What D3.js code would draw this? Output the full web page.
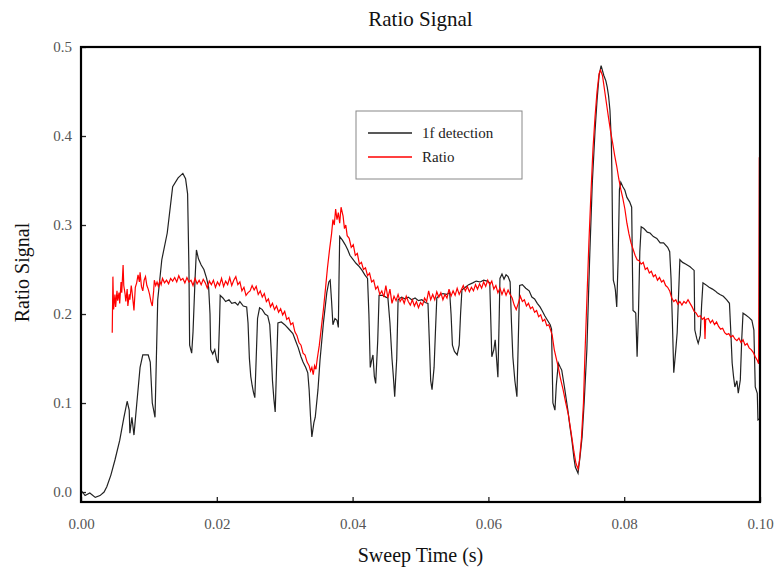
<!DOCTYPE html>
<html>
<head>
<meta charset="utf-8">
<script src="https://cdn.jsdelivr.net/npm/d3@7"></script>
<style>
    body { margin: 0; background: #fff; }
    svg text { font-family: "Liberation Serif", "DejaVu Serif", serif; }
</style>
</head>
<body>
<div id="chart"></div>
<script>
// sweep time (s), signal
const detectionPoints = [
    [0.0000, 0.002], [0.0006, -0.004], [0.0013, -0.001], [0.0021, -0.006], [0.0028, -0.004],
    [0.0034, 0.000], [0.0038, 0.006], [0.0044, 0.019], [0.0050, 0.036], [0.0057, 0.058],
    [0.0063, 0.083], [0.0068, 0.102], [0.0071, 0.092], [0.0072, 0.066], [0.0075, 0.084],
    [0.0078, 0.064], [0.0082, 0.098], [0.0087, 0.140], [0.0091, 0.154], [0.0099, 0.154],
    [0.0102, 0.146], [0.0105, 0.100], [0.0109, 0.084], [0.0113, 0.216], [0.0119, 0.261],
    [0.0127, 0.291], [0.0135, 0.343], [0.0143, 0.353], [0.0150, 0.358], [0.0154, 0.352],
    [0.0157, 0.335], [0.0159, 0.250], [0.0160, 0.165], [0.0163, 0.156], [0.0165, 0.180],
    [0.0168, 0.240], [0.0170, 0.272], [0.0173, 0.262], [0.0177, 0.255], [0.0181, 0.250],
    [0.0185, 0.240], [0.0188, 0.230], [0.0190, 0.200], [0.0191, 0.160], [0.0194, 0.155],
    [0.0197, 0.160], [0.0200, 0.148], [0.0202, 0.145], [0.0204, 0.190], [0.0205, 0.221],
    [0.0209, 0.218], [0.0213, 0.214], [0.0218, 0.216], [0.0222, 0.212], [0.0227, 0.213],
    [0.0231, 0.210], [0.0234, 0.214], [0.0239, 0.209], [0.0244, 0.208], [0.0246, 0.190],
    [0.0248, 0.150], [0.0250, 0.130], [0.0252, 0.120], [0.0254, 0.112], [0.0256, 0.106],
    [0.0258, 0.150], [0.0260, 0.195], [0.0263, 0.207], [0.0267, 0.205], [0.0271, 0.200],
    [0.0275, 0.198], [0.0278, 0.188], [0.0280, 0.160], [0.0282, 0.125], [0.0284, 0.105],
    [0.0286, 0.090], [0.0288, 0.140], [0.0290, 0.190], [0.0295, 0.191], [0.0300, 0.188],
    [0.0305, 0.184], [0.0312, 0.178], [0.0316, 0.170], [0.0320, 0.162], [0.0324, 0.152],
    [0.0327, 0.146], [0.0331, 0.140], [0.0334, 0.134], [0.0336, 0.115], [0.0338, 0.085],
    [0.0340, 0.062], [0.0343, 0.078], [0.0345, 0.084], [0.0349, 0.115], [0.0352, 0.148],
    [0.0357, 0.190], [0.0362, 0.224], [0.0365, 0.236], [0.0367, 0.238], [0.0369, 0.215],
    [0.0371, 0.188], [0.0374, 0.195], [0.0377, 0.193], [0.0379, 0.185], [0.0380, 0.240],
    [0.0381, 0.287], [0.0385, 0.283], [0.0389, 0.278], [0.0393, 0.272], [0.0396, 0.266],
    [0.0400, 0.262], [0.0405, 0.257], [0.0409, 0.254], [0.0414, 0.249], [0.0418, 0.244],
    [0.0422, 0.240], [0.0424, 0.200], [0.0426, 0.140], [0.0428, 0.148], [0.0430, 0.154],
    [0.0432, 0.130], [0.0434, 0.122], [0.0437, 0.170], [0.0439, 0.221], [0.0444, 0.221],
    [0.0449, 0.219], [0.0452, 0.218], [0.0455, 0.190], [0.0458, 0.150], [0.0460, 0.130],
    [0.0462, 0.107], [0.0465, 0.150], [0.0467, 0.216], [0.0472, 0.219], [0.0477, 0.217],
    [0.0482, 0.219], [0.0487, 0.216], [0.0492, 0.218], [0.0497, 0.215], [0.0502, 0.216],
    [0.0507, 0.213], [0.0511, 0.212], [0.0513, 0.170], [0.0515, 0.125], [0.0517, 0.115],
    [0.0520, 0.140], [0.0522, 0.180], [0.0524, 0.218], [0.0528, 0.221], [0.0533, 0.223],
    [0.0538, 0.222], [0.0543, 0.224], [0.0545, 0.200], [0.0547, 0.165], [0.0550, 0.158],
    [0.0554, 0.154], [0.0557, 0.165], [0.0559, 0.200], [0.0561, 0.227], [0.0566, 0.230],
    [0.0571, 0.233], [0.0577, 0.235], [0.0582, 0.237], [0.0588, 0.236], [0.0593, 0.238],
    [0.0598, 0.237], [0.0602, 0.235], [0.0604, 0.180], [0.0605, 0.152], [0.0608, 0.160],
    [0.0610, 0.171], [0.0612, 0.150], [0.0614, 0.129], [0.0616, 0.200], [0.0617, 0.240],
    [0.0620, 0.245], [0.0623, 0.239], [0.0626, 0.244], [0.0629, 0.242], [0.0632, 0.236],
    [0.0634, 0.190], [0.0636, 0.152], [0.0639, 0.125], [0.0642, 0.107], [0.0644, 0.170],
    [0.0646, 0.232], [0.0650, 0.233], [0.0655, 0.229], [0.0660, 0.226], [0.0664, 0.219],
    [0.0668, 0.217], [0.0672, 0.212], [0.0676, 0.208], [0.0679, 0.204], [0.0683, 0.198],
    [0.0687, 0.193], [0.0691, 0.188], [0.0693, 0.183], [0.0694, 0.140], [0.0695, 0.100],
    [0.0698, 0.092], [0.0700, 0.120], [0.0703, 0.145], [0.0706, 0.140], [0.0708, 0.137],
    [0.0712, 0.118], [0.0717, 0.092], [0.0720, 0.074], [0.0723, 0.058], [0.0726, 0.038],
    [0.0728, 0.028], [0.0732, 0.021], [0.0735, 0.040], [0.0738, 0.062], [0.0741, 0.100],
    [0.0745, 0.160], [0.0749, 0.260], [0.0753, 0.347], [0.0757, 0.405], [0.0760, 0.440],
    [0.0763, 0.468], [0.0766, 0.479], [0.0770, 0.468], [0.0773, 0.462], [0.0775, 0.455],
    [0.0777, 0.445], [0.0779, 0.429], [0.0781, 0.395], [0.0782, 0.354], [0.0783, 0.280],
    [0.0784, 0.238], [0.0786, 0.232], [0.0787, 0.227], [0.0789, 0.208], [0.0791, 0.260],
    [0.0793, 0.340], [0.0795, 0.348], [0.0798, 0.343], [0.0801, 0.339], [0.0804, 0.331],
    [0.0808, 0.326], [0.0811, 0.320], [0.0812, 0.260], [0.0813, 0.204], [0.0816, 0.202],
    [0.0817, 0.201], [0.0819, 0.152], [0.0821, 0.200], [0.0823, 0.270], [0.0825, 0.298],
    [0.0829, 0.296], [0.0834, 0.292], [0.0838, 0.291], [0.0843, 0.287], [0.0848, 0.285],
    [0.0853, 0.280], [0.0858, 0.280], [0.0864, 0.275], [0.0867, 0.270], [0.0869, 0.240],
    [0.0871, 0.190], [0.0873, 0.134], [0.0876, 0.160], [0.0878, 0.179], [0.0880, 0.220],
    [0.0882, 0.261], [0.0886, 0.258], [0.0891, 0.256], [0.0897, 0.253], [0.0900, 0.251],
    [0.0903, 0.249], [0.0904, 0.182], [0.0907, 0.172], [0.0909, 0.167], [0.0912, 0.176],
    [0.0914, 0.210], [0.0916, 0.235], [0.0920, 0.233], [0.0925, 0.230], [0.0930, 0.228],
    [0.0934, 0.226], [0.0937, 0.224], [0.0941, 0.222], [0.0946, 0.220], [0.0951, 0.216],
    [0.0955, 0.212], [0.0957, 0.180], [0.0959, 0.145], [0.0961, 0.130], [0.0963, 0.118],
    [0.0966, 0.125], [0.0968, 0.111], [0.0971, 0.126], [0.0973, 0.170], [0.0975, 0.201],
    [0.0979, 0.199], [0.0984, 0.196], [0.0988, 0.193], [0.0991, 0.182], [0.0993, 0.118],
    [0.0996, 0.111], [0.0997, 0.081], [0.0999, 0.082]
];

const ratioPoints = [
    [0.0046, 0.179], [0.0047, 0.242], [0.0048, 0.205], [0.0050, 0.222], [0.0051, 0.208],
    [0.0053, 0.226], [0.0054, 0.215], [0.0056, 0.224], [0.0057, 0.212], [0.0059, 0.236],
    [0.0060, 0.224], [0.0062, 0.255], [0.0063, 0.232], [0.0065, 0.222], [0.0066, 0.214],
    [0.0068, 0.228], [0.0069, 0.209], [0.0071, 0.222], [0.0072, 0.216], [0.0074, 0.232],
    [0.0075, 0.226], [0.0077, 0.212], [0.0078, 0.204], [0.0080, 0.230], [0.0082, 0.235],
    [0.0084, 0.244], [0.0086, 0.236], [0.0087, 0.247], [0.0089, 0.231], [0.0091, 0.226],
    [0.0093, 0.238], [0.0095, 0.242], [0.0097, 0.232], [0.0099, 0.228], [0.0101, 0.222],
    [0.0103, 0.214], [0.0105, 0.209], [0.0107, 0.226], [0.0108, 0.238], [0.0110, 0.232],
    [0.0112, 0.236], [0.0114, 0.231], [0.0116, 0.237], [0.0118, 0.233], [0.0120, 0.240],
    [0.0123, 0.235], [0.0126, 0.238], [0.0129, 0.234], [0.0132, 0.240], [0.0135, 0.237],
    [0.0138, 0.241], [0.0141, 0.236], [0.0144, 0.243], [0.0147, 0.238], [0.0150, 0.240],
    [0.0153, 0.235], [0.0156, 0.241], [0.0159, 0.236], [0.0162, 0.238], [0.0165, 0.232],
    [0.0168, 0.240], [0.0171, 0.234], [0.0174, 0.238], [0.0177, 0.233], [0.0180, 0.239],
    [0.0183, 0.235], [0.0186, 0.229], [0.0189, 0.237], [0.0192, 0.233], [0.0195, 0.238],
    [0.0198, 0.230], [0.0201, 0.236], [0.0204, 0.232], [0.0207, 0.240], [0.0210, 0.231],
    [0.0213, 0.237], [0.0216, 0.233], [0.0219, 0.241], [0.0222, 0.232], [0.0225, 0.238],
    [0.0228, 0.242], [0.0231, 0.233], [0.0234, 0.236], [0.0237, 0.226], [0.0240, 0.230],
    [0.0243, 0.221], [0.0246, 0.224], [0.0249, 0.226], [0.0252, 0.232], [0.0255, 0.227],
    [0.0258, 0.231], [0.0261, 0.222], [0.0264, 0.226], [0.0267, 0.219], [0.0270, 0.223],
    [0.0273, 0.214], [0.0276, 0.217], [0.0279, 0.208], [0.0282, 0.212], [0.0285, 0.205],
    [0.0288, 0.209], [0.0291, 0.202], [0.0294, 0.206], [0.0297, 0.199], [0.0300, 0.203],
    [0.0303, 0.194], [0.0306, 0.196], [0.0309, 0.188], [0.0312, 0.190], [0.0315, 0.180],
    [0.0318, 0.176], [0.0321, 0.168], [0.0324, 0.165], [0.0327, 0.156], [0.0330, 0.154],
    [0.0333, 0.146], [0.0336, 0.142], [0.0338, 0.136], [0.0340, 0.140], [0.0342, 0.132],
    [0.0344, 0.142], [0.0346, 0.138], [0.0348, 0.150], [0.0351, 0.165], [0.0354, 0.185],
    [0.0357, 0.205], [0.0360, 0.228], [0.0363, 0.252], [0.0366, 0.272], [0.0369, 0.290],
    [0.0371, 0.306], [0.0373, 0.300], [0.0375, 0.318], [0.0377, 0.306], [0.0379, 0.314],
    [0.0381, 0.302], [0.0383, 0.320], [0.0386, 0.310], [0.0388, 0.296], [0.0390, 0.300],
    [0.0392, 0.288], [0.0395, 0.285], [0.0398, 0.275], [0.0401, 0.278], [0.0404, 0.266],
    [0.0407, 0.268], [0.0410, 0.256], [0.0413, 0.258], [0.0416, 0.250], [0.0419, 0.252],
    [0.0422, 0.243], [0.0425, 0.246], [0.0428, 0.236], [0.0431, 0.238], [0.0434, 0.228],
    [0.0437, 0.231], [0.0440, 0.222], [0.0443, 0.226], [0.0446, 0.219], [0.0449, 0.232],
    [0.0452, 0.218], [0.0455, 0.228], [0.0458, 0.212], [0.0461, 0.220], [0.0464, 0.215],
    [0.0467, 0.222], [0.0470, 0.214], [0.0473, 0.218], [0.0476, 0.212], [0.0479, 0.220],
    [0.0482, 0.214], [0.0485, 0.210], [0.0488, 0.216], [0.0491, 0.209], [0.0494, 0.214],
    [0.0497, 0.207], [0.0500, 0.213], [0.0503, 0.210], [0.0506, 0.218], [0.0509, 0.214],
    [0.0512, 0.226], [0.0515, 0.216], [0.0518, 0.222], [0.0521, 0.216], [0.0524, 0.225],
    [0.0527, 0.219], [0.0530, 0.224], [0.0533, 0.216], [0.0536, 0.222], [0.0539, 0.218],
    [0.0542, 0.228], [0.0545, 0.220], [0.0548, 0.226], [0.0551, 0.221], [0.0554, 0.229],
    [0.0557, 0.222], [0.0560, 0.227], [0.0563, 0.232], [0.0566, 0.226], [0.0569, 0.231],
    [0.0572, 0.225], [0.0575, 0.230], [0.0578, 0.226], [0.0581, 0.233], [0.0584, 0.228],
    [0.0587, 0.234], [0.0590, 0.229], [0.0593, 0.236], [0.0596, 0.231], [0.0599, 0.238],
    [0.0602, 0.233], [0.0605, 0.237], [0.0608, 0.228], [0.0611, 0.232], [0.0614, 0.224],
    [0.0617, 0.229], [0.0620, 0.222], [0.0623, 0.228], [0.0626, 0.221], [0.0629, 0.227],
    [0.0632, 0.222], [0.0635, 0.218], [0.0638, 0.210], [0.0641, 0.205], [0.0644, 0.212],
    [0.0647, 0.220], [0.0650, 0.214], [0.0653, 0.216], [0.0656, 0.209], [0.0659, 0.212],
    [0.0662, 0.206], [0.0665, 0.208], [0.0668, 0.202], [0.0671, 0.204], [0.0674, 0.197],
    [0.0677, 0.199], [0.0680, 0.192], [0.0683, 0.194], [0.0686, 0.187], [0.0689, 0.188],
    [0.0692, 0.181], [0.0694, 0.176], [0.0697, 0.160], [0.0700, 0.150], [0.0703, 0.140],
    [0.0706, 0.128], [0.0710, 0.115], [0.0714, 0.100], [0.0718, 0.086], [0.0722, 0.066],
    [0.0726, 0.045], [0.0729, 0.032], [0.0732, 0.026], [0.0734, 0.035], [0.0737, 0.060],
    [0.0740, 0.100], [0.0742, 0.150], [0.0745, 0.215], [0.0748, 0.280], [0.0751, 0.335],
    [0.0754, 0.385], [0.0757, 0.421], [0.0760, 0.450], [0.0763, 0.470], [0.0765, 0.474],
    [0.0768, 0.468], [0.0771, 0.452], [0.0774, 0.436], [0.0777, 0.420], [0.0780, 0.405],
    [0.0783, 0.392], [0.0786, 0.378], [0.0789, 0.366], [0.0792, 0.352], [0.0795, 0.340],
    [0.0798, 0.330], [0.0801, 0.318], [0.0804, 0.302], [0.0807, 0.290], [0.0810, 0.280],
    [0.0813, 0.273], [0.0816, 0.266], [0.0819, 0.261], [0.0822, 0.260], [0.0825, 0.256],
    [0.0828, 0.258], [0.0831, 0.250], [0.0834, 0.252], [0.0837, 0.246], [0.0840, 0.248],
    [0.0843, 0.242], [0.0846, 0.244], [0.0849, 0.238], [0.0852, 0.241], [0.0855, 0.236],
    [0.0858, 0.238], [0.0861, 0.232], [0.0864, 0.230], [0.0867, 0.226], [0.0870, 0.218],
    [0.0873, 0.214], [0.0876, 0.216], [0.0879, 0.211], [0.0882, 0.214], [0.0885, 0.210],
    [0.0888, 0.214], [0.0891, 0.212], [0.0894, 0.216], [0.0897, 0.212], [0.0900, 0.208],
    [0.0903, 0.203], [0.0906, 0.201], [0.0909, 0.197], [0.0912, 0.198], [0.0915, 0.194],
    [0.0918, 0.196], [0.0919, 0.172], [0.0920, 0.194], [0.0924, 0.195], [0.0927, 0.190],
    [0.0930, 0.193], [0.0933, 0.188], [0.0936, 0.191], [0.0939, 0.186], [0.0942, 0.183],
    [0.0945, 0.184], [0.0948, 0.179], [0.0951, 0.177], [0.0954, 0.178], [0.0957, 0.174],
    [0.0960, 0.176], [0.0963, 0.172], [0.0966, 0.170], [0.0969, 0.173], [0.0972, 0.168],
    [0.0975, 0.171], [0.0978, 0.165], [0.0981, 0.167], [0.0984, 0.162], [0.0987, 0.160],
    [0.0990, 0.157], [0.0993, 0.152], [0.0996, 0.148], [0.0998, 0.144], [0.0999, 0.376]
];

const xTicks = [0, 0.02, 0.04, 0.06, 0.08, 0.10];
const yTicks = [0, 0.1, 0.2, 0.3, 0.4, 0.5];
const seriesNames = ["1f detection", "Ratio"];
const seriesColors = ["#222", "#ff0000"];

const W = 777, H = 582;
const margin = {top: 47, right: 17, bottom: 80, left: 81};
const width = W - margin.left - margin.right;
const height = H - margin.top - margin.bottom;

const svg = d3.select("#chart").append("svg")
    .attr("width", W)
    .attr("height", H);

const g = svg.append("g")
    .attr("transform", `translate(${margin.left},${margin.top})`);

const x = d3.scaleLinear().domain([0, 0.1]).range([0, width]);
const y = d3.scaleLinear().domain([-0.0112, 0.5]).range([height, 0]);

// data lines
const line = d3.line()
    .x(d => x(d[0]))
    .y(d => y(d[1]));

g.append("path")
    .datum(detectionPoints)
    .attr("fill", "none")
    .attr("stroke", seriesColors[0])
    .attr("stroke-width", 1.2)
    .attr("d", line);

g.append("path")
    .datum(ratioPoints)
    .attr("fill", "none")
    .attr("stroke", seriesColors[1])
    .attr("stroke-width", 1.2)
    .attr("d", line);

// axes, ticks pointing inward
const xAxis = d3.axisBottom(x).tickValues(xTicks).tickSize(-5).tickPadding(16)
    .tickFormat(d3.format(".2f"));
const yAxis = d3.axisLeft(y).tickValues(yTicks).tickSize(-5).tickPadding(9)
    .tickFormat(d3.format(".1f"));

g.append("g")
    .attr("transform", `translate(0,${height})`)
    .call(xAxis)
    .call(a => a.select(".domain").remove());

g.append("g")
    .call(yAxis)
    .call(a => a.select(".domain").remove());

g.selectAll(".tick line").attr("stroke", "#222").attr("stroke-width", 1.3);
g.selectAll(".tick text")
    .attr("fill", "#555")
    .style("font-size", "15px")
    .style("font-family", "Liberation Serif, serif");

// frame
g.append("rect")
    .attr("width", width)
    .attr("height", height)
    .attr("fill", "none")
    .attr("stroke", "#000")
    .attr("stroke-width", 2.2);

// titles
svg.append("text")
    .attr("x", margin.left + width / 2)
    .attr("y", 26)
    .attr("text-anchor", "middle")
    .style("font-size", "21px")
    .attr("fill", "#111")
    .text("Ratio Signal");

svg.append("text")
    .attr("x", margin.left + width / 2)
    .attr("y", 562)
    .attr("text-anchor", "middle")
    .style("font-size", "20px")
    .attr("fill", "#111")
    .text("Sweep Time (s)");

svg.append("text")
    .attr("transform", `translate(29,${margin.top + height / 2 - 2}) rotate(-90)`)
    .attr("text-anchor", "middle")
    .style("font-size", "20px")
    .attr("fill", "#111")
    .text("Ratio Signal");

// legend
const legend = svg.append("g").attr("transform", "translate(356,111)");

legend.append("rect")
    .attr("width", 166)
    .attr("height", 68)
    .attr("fill", "#fff")
    .attr("stroke", "#888")
    .attr("stroke-width", 1);

seriesNames.forEach((name, i) => {
    legend.append("line")
        .attr("x1", 12).attr("x2", 56)
        .attr("y1", 22 + i * 24).attr("y2", 22 + i * 24)
        .attr("stroke", seriesColors[i])
        .attr("stroke-width", 1.3);
    legend.append("text")
        .attr("x", 66)
        .attr("y", 27 + i * 24)
        .style("font-size", "15px")
        .attr("fill", "#222")
        .text(name);
});
</script>
</body>
</html>
